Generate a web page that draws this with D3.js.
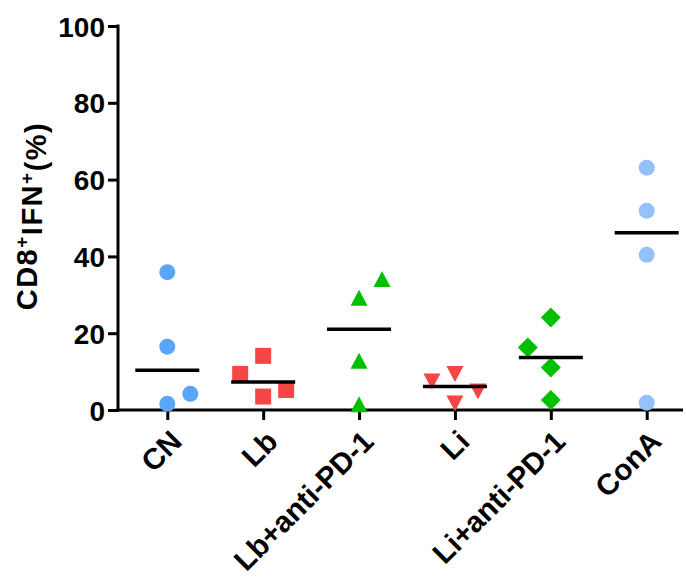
<!DOCTYPE html>
<html>
<head>
<meta charset="utf-8">
<script src="https://cdn.jsdelivr.net/npm/d3@7"></script>
<style>
  html, body { margin: 0; padding: 0; background: #fff; }
  svg { display: block; }
  text { font-family: "Liberation Sans", Arial, Helvetica, sans-serif; font-weight: bold; fill: #000; }
</style>
</head>
<body>
<svg id="chart" width="686" height="577"></svg>
<script>
// ---- data ----
const categories = ["CN", "Lb", "Lb+anti-PD-1", "Li", "Li+anti-PD-1", "ConA"];
const valuesCN      = [35.9, 16.5, 4.2, 1.6];
const valuesLb      = [14.1, 9.4, 3.5, 5.2];
const valuesLbPD1   = [34.1, 29.2, 12.8, 1.5];
const valuesLi      = [7.4, 9.4, 4.8, 1.7];
const valuesLiPD1   = [24.1, 16.3, 11.1, 2.6];
const valuesConA    = [63.1, 51.9, 40.4, 1.9];
// horizontal scatter slot of each point (-1 left, 0 centre, +1 right)
const slotsCN       = [0, 0, 1, 0];
const slotsLb       = [0, -1, 0, 1];
const slotsLbPD1    = [1, 0, 0, 0];
const slotsLi       = [-1, 0, 1, 0];
const slotsLiPD1    = [0, -1, 0, 0];
const slotsConA     = [0, 0, 0, 0];
const yTicks = [0, 20, 40, 60, 80, 100];

const groups = [
  { name: categories[0], values: valuesCN,    slots: slotsCN,    shape: "circle",   color: "#5aa5f7" },
  { name: categories[1], values: valuesLb,    slots: slotsLb,    shape: "square",   color: "#f64545" },
  { name: categories[2], values: valuesLbPD1, slots: slotsLbPD1, shape: "triUp",    color: "#00c000" },
  { name: categories[3], values: valuesLi,    slots: slotsLi,    shape: "triDown",  color: "#f64545" },
  { name: categories[4], values: valuesLiPD1, slots: slotsLiPD1, shape: "diamond",  color: "#00c000" },
  { name: categories[5], values: valuesConA,  slots: slotsConA,  shape: "circle",   color: "#94c1f9" }
];

// ---- layout ----
const svg = d3.select("#chart");
const axisX0 = 118, axisX1 = 683, axisY = 410;
const y = d3.scaleLinear().domain([0, 100]).range([410, 26]);
const x = d3.scalePoint().domain(categories).range([167.3, 646.7]);
const slotW = 23;

// y axis
const yAxis = d3.axisLeft(y).tickValues(yTicks).tickSize(10).tickPadding(3).tickFormat(d3.format("d"));
const gy = svg.append("g").attr("transform", `translate(${axisX0},0)`).call(yAxis);
gy.select(".domain").remove();
gy.selectAll(".tick line").attr("stroke", "#000").attr("stroke-width", 3);
gy.selectAll(".tick text").style("font-size", "28px").style("font-weight", "bold")
  .attr("font-family", "Liberation Sans, Arial, sans-serif").attr("fill", "#000").attr("dy", "0.36em");
svg.append("line").attr("x1", axisX0).attr("x2", axisX0).attr("y1", y(100) - 1.5).attr("y2", axisY + 1.5)
  .attr("stroke", "#000").attr("stroke-width", 3);

// x axis
const xAxis = d3.axisBottom(x).tickSize(10).tickFormat("");
const gx = svg.append("g").attr("transform", `translate(0,${axisY})`).call(xAxis);
gx.select(".domain").remove();
gx.selectAll(".tick line").attr("stroke", "#000").attr("stroke-width", 3);
svg.append("line").attr("x1", axisX0 - 1.5).attr("x2", axisX1).attr("y1", axisY).attr("y2", axisY)
  .attr("stroke", "#000").attr("stroke-width", 3);

// x labels rotated
svg.append("g").selectAll("text").data(categories).join("text")
  .attr("transform", d => `translate(${x(d) + 9},${axisY + 26}) rotate(-45)`)
  .attr("text-anchor", "end")
  .attr("dy", "0.35em")
  .style("font-size", "29.5px")
  .text(d => d);

// y label
const yl = svg.append("text")
  .attr("transform", `translate(37,216) rotate(-90)`)
  .attr("text-anchor", "middle")
  .style("font-size", "29px")
  .style("letter-spacing", "1.5px");
yl.append("tspan").text("CD8");
yl.append("tspan").attr("dy", "-0.45em").style("font-size", "19px").text("+");
yl.append("tspan").attr("dy", "0.45em").text("IFN");
yl.append("tspan").attr("dy", "-0.45em").style("font-size", "19px").text("+");
yl.append("tspan").attr("dy", "0.45em").text("(%)");

// symbols
function shapePath(shape) {
  switch (shape) {
    case "circle": return d3.symbol(d3.symbolCircle, Math.PI * 8 * 8)();
    case "square": return "M-8,-8H8V8H-8Z";
    case "triUp": return "M0,-8L8.5,8H-8.5Z";
    case "triDown": return "M0,8L8.5,-8H-8.5Z";
    case "diamond": return "M0,-10L10,0L0,10L-10,0Z";
  }
}

groups.forEach(g => {
  const cx = x(g.name);
  const pts = g.values.map((v, i) => ({ v, s: g.slots[i] }));
  svg.append("g").selectAll("path").data(pts).join("path")
    .attr("d", shapePath(g.shape))
    .attr("transform", d => `translate(${cx + d.s * slotW},${y(d.v)})`)
    .attr("fill", g.color);
  const med = d3.median(g.values);
  svg.append("line")
    .attr("x1", cx - 32).attr("x2", cx + 32)
    .attr("y1", y(med)).attr("y2", y(med))
    .attr("stroke", "#000").attr("stroke-width", 3.5);
});
</script>
</body>
</html>
